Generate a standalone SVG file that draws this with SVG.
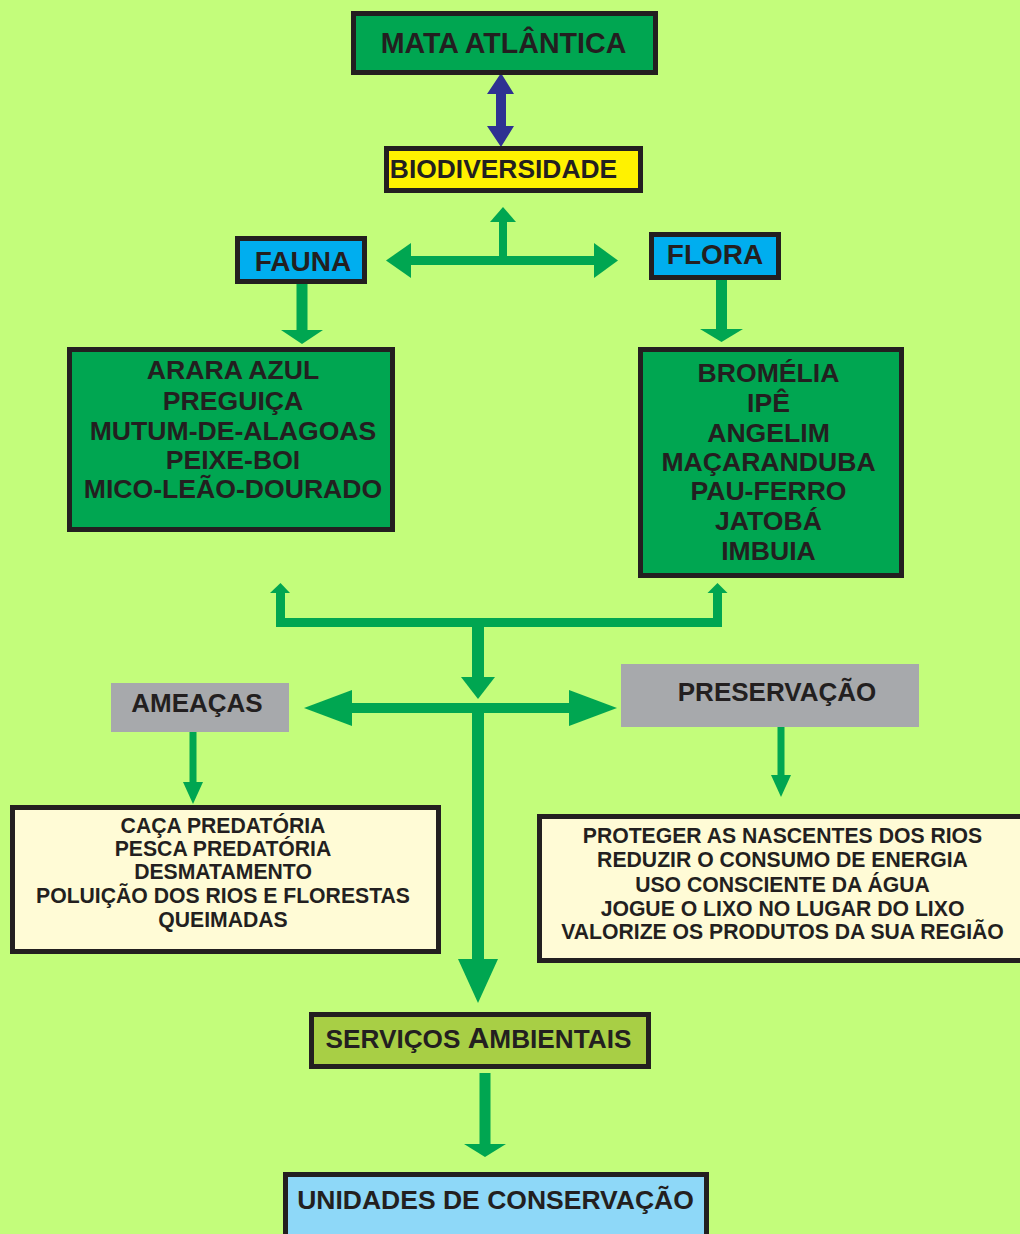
<svg xmlns="http://www.w3.org/2000/svg" width="1020" height="1234" viewBox="0 0 1020 1234">
<style>
text{font-family:"Liberation Sans",Arial,sans-serif;font-weight:bold;fill:#231F20;text-anchor:middle}
.bx{stroke:#231F20;stroke-width:5}
.g{fill:#00A651}
.b{fill:#2E3192}
</style>
<rect width="1020" height="1234" fill="#C3FD7B"/>
<g id="connectors">
  <polygon class="b" points="501,73 487,94 496,94 496,126 487,126 501,147 514,126 506,126 506,94 514,94"/>
  <rect class="g" x="499" y="220" width="8" height="38"/>
  <polygon class="g" points="503,207 490,222 516,222"/>
  <rect class="g" x="409" y="256" width="187" height="9"/>
  <polygon class="g" points="386,260.5 411,243 411,278"/>
  <polygon class="g" points="618,260.5 594,243 594,278"/>
  <rect class="g" x="296.5" y="284" width="11" height="47"/>
  <polygon class="g" points="281,330 323,330 302,344"/>
  <rect class="g" x="716" y="280" width="11" height="50"/>
  <polygon class="g" points="700,329 743,329 721.5,342"/>
  <rect class="g" x="276" y="592" width="9" height="35"/>
  <polygon class="g" points="270,593 290,593 280.5,583"/>
  <rect class="g" x="276" y="618" width="446" height="9"/>
  <rect class="g" x="713" y="592" width="9" height="35"/>
  <polygon class="g" points="707.5,593 727.5,593 717.5,583"/>
  <rect class="g" x="472" y="626" width="12" height="52"/>
  <polygon class="g" points="461,677 495,677 478,699"/>
  <rect class="g" x="350" y="703" width="221" height="10"/>
  <polygon class="g" points="304,708 352,690 352,726"/>
  <polygon class="g" points="617,708 569,690 569,726"/>
  <rect class="g" x="472" y="712" width="12" height="248"/>
  <polygon class="g" points="458,959 498,959 478,1003"/>
  <rect class="g" x="189.5" y="732" width="7" height="51"/>
  <polygon class="g" points="183,782 203,782 193,804"/>
  <rect class="g" x="777.5" y="727" width="7" height="49"/>
  <polygon class="g" points="771,775 791,775 781,797"/>
  <rect class="g" x="479.5" y="1073" width="11" height="72"/>
  <polygon class="g" points="464,1144 506,1144 485,1157"/>
</g>
<g id="mata">
  <rect class="bx" x="353.5" y="13.5" width="302" height="59" fill="#00A651"/>
  <text x="503.5" y="53" font-size="28.6">MATA ATLÂNTICA</text>
</g>
<g id="biodiversidade">
  <rect class="bx" x="386.5" y="148.5" width="254" height="42" fill="#FFF200"/>
  <text x="503.5" y="178" font-size="26.4">BIODIVERSIDADE</text>
</g>
<g id="fauna">
  <rect class="bx" x="237.5" y="238.5" width="127" height="43" fill="#00AEEF"/>
  <text x="303" y="271" font-size="28">FAUNA</text>
</g>
<g id="flora">
  <rect class="bx" x="651.5" y="234.5" width="127" height="43" fill="#00AEEF"/>
  <text x="715" y="264" font-size="28">FLORA</text>
</g>
<g id="fauna-lista">
  <rect class="bx" x="69.5" y="349.5" width="323" height="180" fill="#00A651"/>
  <text x="233" font-size="26.6"><tspan x="233" y="379">ARARA AZUL</tspan><tspan x="233" y="410">PREGUIÇA</tspan><tspan x="233" y="440">MUTUM-DE-ALAGOAS</tspan><tspan x="233" y="469">PEIXE-BOI</tspan><tspan x="233" y="498">MICO-LEÃO-DOURADO</tspan></text>
</g>
<g id="flora-lista">
  <rect class="bx" x="640.5" y="349.5" width="261" height="226" fill="#00A651"/>
  <text x="768.5" font-size="26.6"><tspan x="768.5" y="382">BROMÉLIA</tspan><tspan x="768.5" y="412">IPÊ</tspan><tspan x="768.5" y="442">ANGELIM</tspan><tspan x="768.5" y="471">MAÇARANDUBA</tspan><tspan x="768.5" y="500">PAU-FERRO</tspan><tspan x="768.5" y="530">JATOBÁ</tspan><tspan x="768.5" y="560">IMBUIA</tspan></text>
</g>
<g id="ameacas">
  <rect x="111" y="683" width="178" height="49" fill="#A7A9AC"/>
  <text x="197" y="712" font-size="26">AMEAÇAS</text>
</g>
<g id="preservacao">
  <rect x="621" y="664" width="298" height="63" fill="#A7A9AC"/>
  <text x="777" y="701" font-size="26">PRESERVAÇÃO</text>
</g>
<g id="ameacas-lista">
  <rect class="bx" x="12.5" y="807.5" width="426" height="144" fill="#FFFBD6"/>
  <text x="223" font-size="21.2"><tspan x="223" y="833">CAÇA PREDATÓRIA</tspan><tspan x="223" y="856">PESCA PREDATÓRIA</tspan><tspan x="223" y="879">DESMATAMENTO</tspan><tspan x="223" y="903">POLUIÇÃO DOS RIOS E FLORESTAS</tspan><tspan x="223" y="927">QUEIMADAS</tspan></text>
</g>
<g id="preservacao-lista">
  <rect class="bx" x="539.5" y="816.5" width="490" height="144" fill="#FFFBD6"/>
  <text x="782.5" font-size="21.2"><tspan x="782.5" y="843">PROTEGER AS NASCENTES DOS RIOS</tspan><tspan x="782.5" y="867">REDUZIR O CONSUMO DE ENERGIA</tspan><tspan x="782.5" y="892">USO CONSCIENTE DA ÁGUA</tspan><tspan x="782.5" y="916">JOGUE O LIXO NO LUGAR DO LIXO</tspan><tspan x="782.5" y="939">VALORIZE OS PRODUTOS DA SUA REGIÃO</tspan></text>
</g>
<g id="servicos">
  <rect class="bx" x="311.5" y="1014.5" width="337" height="52" fill="#A8CF45"/>
  <text x="478.5" y="1048" font-size="26.2">SERVIÇOS <tspan font-size="30">A</tspan>MBIENTAIS</text>
</g>
<g id="unidades">
  <rect class="bx" x="285.5" y="1174.5" width="421" height="70" fill="#8ED8F8"/>
  <text x="495.5" y="1209" font-size="26.5">UNIDADES DE CONSERVAÇÃO</text>
</g>
</svg>
